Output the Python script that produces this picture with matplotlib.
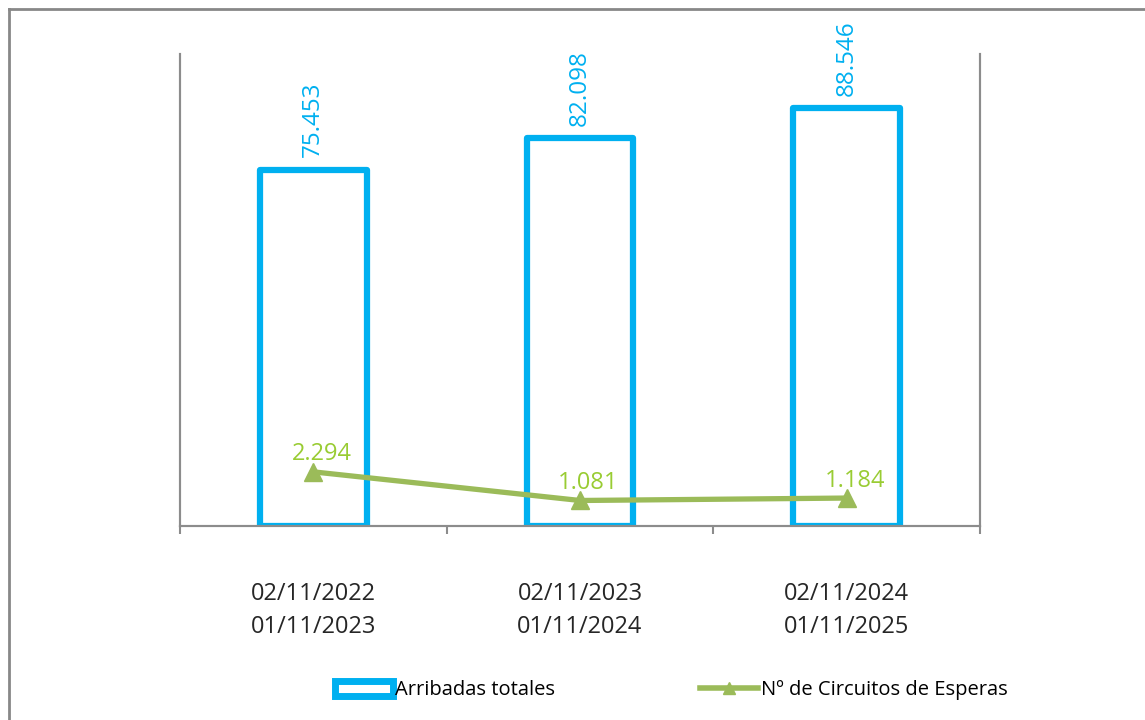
import matplotlib.pyplot as plt
from matplotlib.lines import Line2D
from matplotlib.patches import Patch

plt.rcParams['font.family'] = ['Open Sans', 'DejaVu Sans']

# data
periodos = ["02/11/2022\n01/11/2023", "02/11/2023\n01/11/2024", "02/11/2024\n01/11/2025"]
arribadas = [75453, 82098, 88546]
circuitos = [2294, 1081, 1184]
etiquetas_arribadas = ["75.453", "82.098", "88.546"]
etiquetas_circuitos = ["2.294", "1.081", "1.184"]

cyan = "#00B0F0"
green = "#9BBB59"
label_green = "#99CC33"
grey = "#8C8C8C"

fig = plt.figure(figsize=(11.45, 7.2), dpi=100)
ax = fig.add_axes([180 / 1145, 1 - 526 / 720, 800 / 1145, 472 / 720])
ax2 = ax.twinx()

x = list(range(len(periodos)))

# bars: white fill, thick cyan outline
ax.bar(x, arribadas, width=0.40, facecolor="white", edgecolor=cyan,
       linewidth=4.5, joinstyle="round", zorder=2)
for xi, v, t in zip(x, arribadas, etiquetas_arribadas):
    ax.annotate(t, (xi, v), xytext=(0, 9), textcoords="offset points",
                rotation=90, ha="center", va="bottom", color=cyan, fontsize=17.5)

ax.set_xlim(-0.5, 2.5)
ax.set_ylim(0, 100000)
ax2.set_ylim(0, 20000)

# line on the secondary axis
ax2.plot(x, circuitos, color=green, linewidth=3.8, marker="^", markersize=13,
         zorder=3)
for xi, v, t in zip(x, circuitos, etiquetas_circuitos):
    ax2.annotate(t, (xi, v), xytext=(6, 4), textcoords="offset points",
                 ha="center", va="bottom", color=label_green, fontsize=17)

# axes styling
for a in (ax, ax2):
    a.spines["top"].set_visible(False)
    for s in ("left", "right", "bottom"):
        a.spines[s].set_color(grey)
        a.spines[s].set_linewidth(1.5)
    a.set_yticks([])

ax.set_xticks([-0.5, 0.5, 1.5, 2.5])
ax.set_xticklabels([])
ax.tick_params(axis="x", which="major", length=6, width=1.5, color=grey, direction="out")
ax.set_xticks(x, minor=True)
ax.set_xticklabels(periodos, minor=True, fontsize=17, color="#262626", linespacing=1.5)
ax.tick_params(axis="x", which="minor", length=0, pad=40)

# legend
handles = [
    Patch(facecolor="white", edgecolor=cyan, linewidth=5, label="Arribadas totales"),
    Line2D([0], [0], color=green, linewidth=4, marker="^", markersize=8,
           label="Nº de Circuitos de Esperas"),
]
fig.legend(handles=handles, loc="center", bbox_to_anchor=(0.586, 0.041), ncol=2,
           frameon=False, fontsize=14.5, handlelength=2.9, handleheight=0.75,
           handletextpad=0.1, columnspacing=7.2)

# outer chart border (only left and top edges visible in the crop)
fig.add_artist(Line2D([9 / 1145, 9 / 1145], [0, 1 - 9 / 720], color="#888888",
                      linewidth=2, transform=fig.transFigure))
fig.add_artist(Line2D([9 / 1145, 1], [1 - 9 / 720, 1 - 9 / 720], color="#888888",
                      linewidth=2, transform=fig.transFigure))

fig.savefig("out.png", dpi=100, facecolor="white")
